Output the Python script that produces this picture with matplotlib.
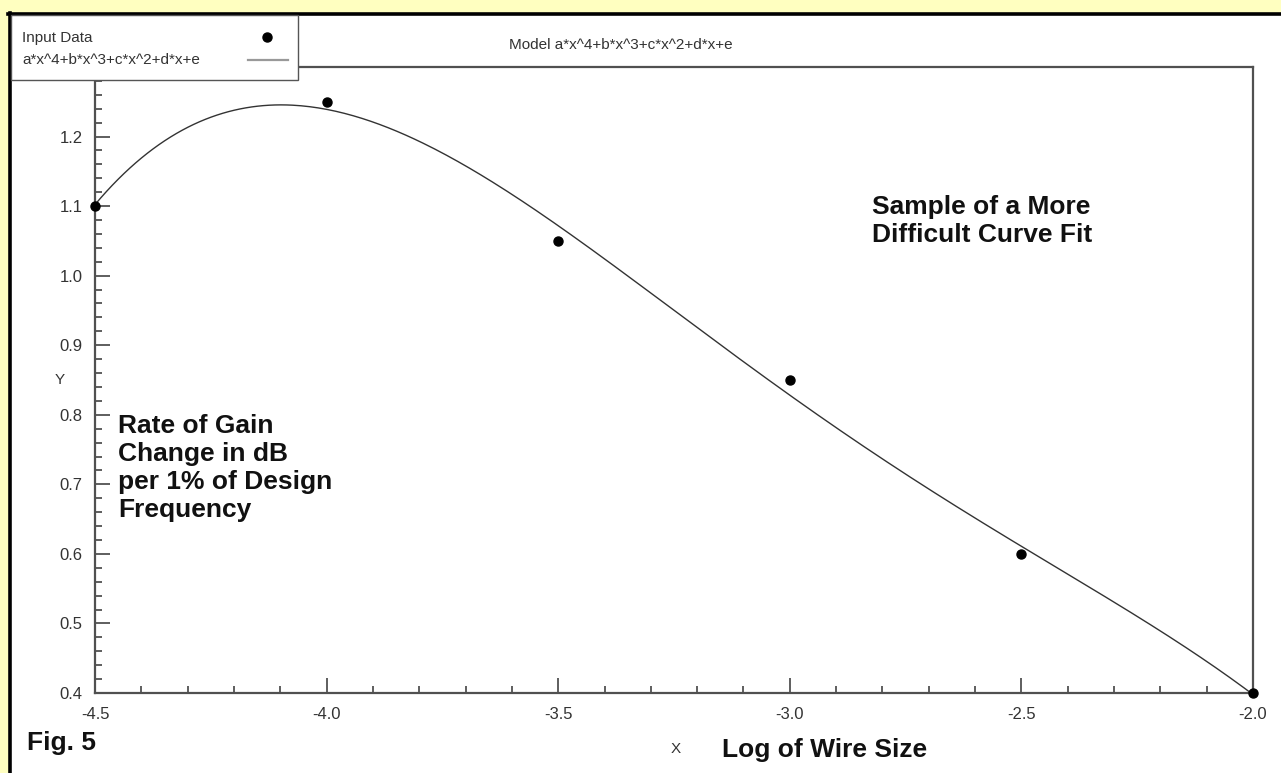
import numpy as np
import matplotlib
matplotlib.use('Agg')
import matplotlib.pyplot as plt
from matplotlib.patches import Rectangle
from matplotlib.lines import Line2D
from matplotlib.ticker import MultipleLocator

plt.rcParams['font.family'] = ['Liberation Sans', 'DejaVu Sans']
plt.rcParams['axes.unicode_minus'] = False

# ---- data ----
x_data = [-4.5, -4.0, -3.5, -3.0, -2.5, -2.0]
y_data = [1.10, 1.25, 1.05, 0.85, 0.60, 0.40]
x_ticks = [-4.5, -4.0, -3.5, -3.0, -2.5, -2.0]
y_ticks = [0.4, 0.5, 0.6, 0.7, 0.8, 0.9, 1.0, 1.1, 1.2, 1.3]
y_tick_labels = ["0.4", "0.5", "0.6", "0.7", "0.8", "0.9", "1.0", "1.1", "1.2", ""]
title_text = "Model a*x^4+b*x^3+c*x^2+d*x+e"
legend_labels = ["Input Data", "a*x^4+b*x^3+c*x^2+d*x+e"]

W, H = 1281, 773
fig = plt.figure(figsize=(W / 100, H / 100), dpi=100, facecolor='#FFFFC0')


def fx(px):
    return px / W


def fy(py):
    return 1 - py / H


# white panel with black frame at top/left
fig.add_artist(Rectangle((fx(10), -0.01), 1.1, fy(14) + 0.01, transform=fig.transFigure,
                         facecolor='white', edgecolor='none', zorder=-5))
fig.add_artist(Line2D([fx(8), 1.01], [fy(14), fy(14)], transform=fig.transFigure,
                      color='black', lw=2.6, zorder=-4))
fig.add_artist(Line2D([fx(10), fx(10)], [fy(12.5), -0.01], transform=fig.transFigure,
                      color='black', lw=2.6, zorder=-4))

ax = fig.add_axes([fx(95), fy(693), fx(1253) - fx(95), fy(67) - fy(693)])
ax.set_facecolor('white')
ax.set_xlim(-4.5, -2.0)
ax.set_ylim(0.4, 1.3)
for s in ax.spines.values():
    s.set_color('#505050')
    s.set_linewidth(1.6)

ax.set_xticks(x_ticks)
ax.set_xticklabels([f"{v:.1f}" for v in x_ticks])
ax.set_yticks(y_ticks)
ax.set_yticklabels(y_tick_labels)
ax.xaxis.set_minor_locator(MultipleLocator(0.1))
ax.yaxis.set_minor_locator(MultipleLocator(0.02))
ax.tick_params(which='major', direction='in', length=11, width=1.1, color='#333333',
               labelsize=12, labelcolor='#333333')
ax.tick_params(axis='x', which='major', pad=10)
ax.tick_params(axis='y', which='major', pad=9)
ax.tick_params(which='minor', direction='in', length=5, width=1.1, color='#333333')

# fitted model curve
coeffs = np.polyfit(x_data, y_data, 4)
xs = np.linspace(x_data[0], x_data[-1], 400)
ax.plot(xs, np.polyval(coeffs, xs), color='#333333', lw=1.0, zorder=3)
ax.plot(x_data, y_data, 'o', color='black', ms=6.5, clip_on=False, zorder=5)

# title and axis labels
small = dict(fontsize=11, color='#333333')
fig.text(fx(621), fy(45), title_text, ha='center', va='center', **small)
fig.text(fx(60), fy(380), "Y", ha='center', va='center', **small)
fig.text(fx(676), fy(749), "X", ha='center', va='center', **small)

bold = dict(fontsize=19, fontweight='bold', color='#111111')
fig.text(fx(872), fy(221), "Sample of a More\nDifficult Curve Fit", ha='left', va='center',
         linespacing=1.2, **bold)
fig.text(fx(118), fy(468), "Rate of Gain\nChange in dB\nper 1% of Design\nFrequency",
         ha='left', va='center', linespacing=1.2, **bold)
fig.text(fx(27), fy(743), "Fig. 5", ha='left', va='center', **bold)
fig.text(fx(722), fy(750), "Log of Wire Size", ha='left', va='center', **bold)

# legend box
fig.add_artist(Rectangle((fx(11), fy(80)), fx(298) - fx(11), fy(15) - fy(80),
                         transform=fig.transFigure, facecolor='white', edgecolor='#555555',
                         lw=1.0, zorder=10))
fig.text(fx(22), fy(38), legend_labels[0], ha='left', va='center', zorder=11, **small)
fig.text(fx(22), fy(60), legend_labels[1], ha='left', va='center', zorder=11, **small)
fig.add_artist(Line2D([fx(267)], [fy(37)], transform=fig.transFigure, marker='o',
                      color='black', ms=6.5, ls='none', zorder=11))
fig.add_artist(Line2D([fx(248), fx(288)], [fy(60), fy(60)], transform=fig.transFigure,
                      color='#999999', lw=1.6, zorder=11))

fig.savefig('out.png', dpi=100, facecolor=fig.get_facecolor())
